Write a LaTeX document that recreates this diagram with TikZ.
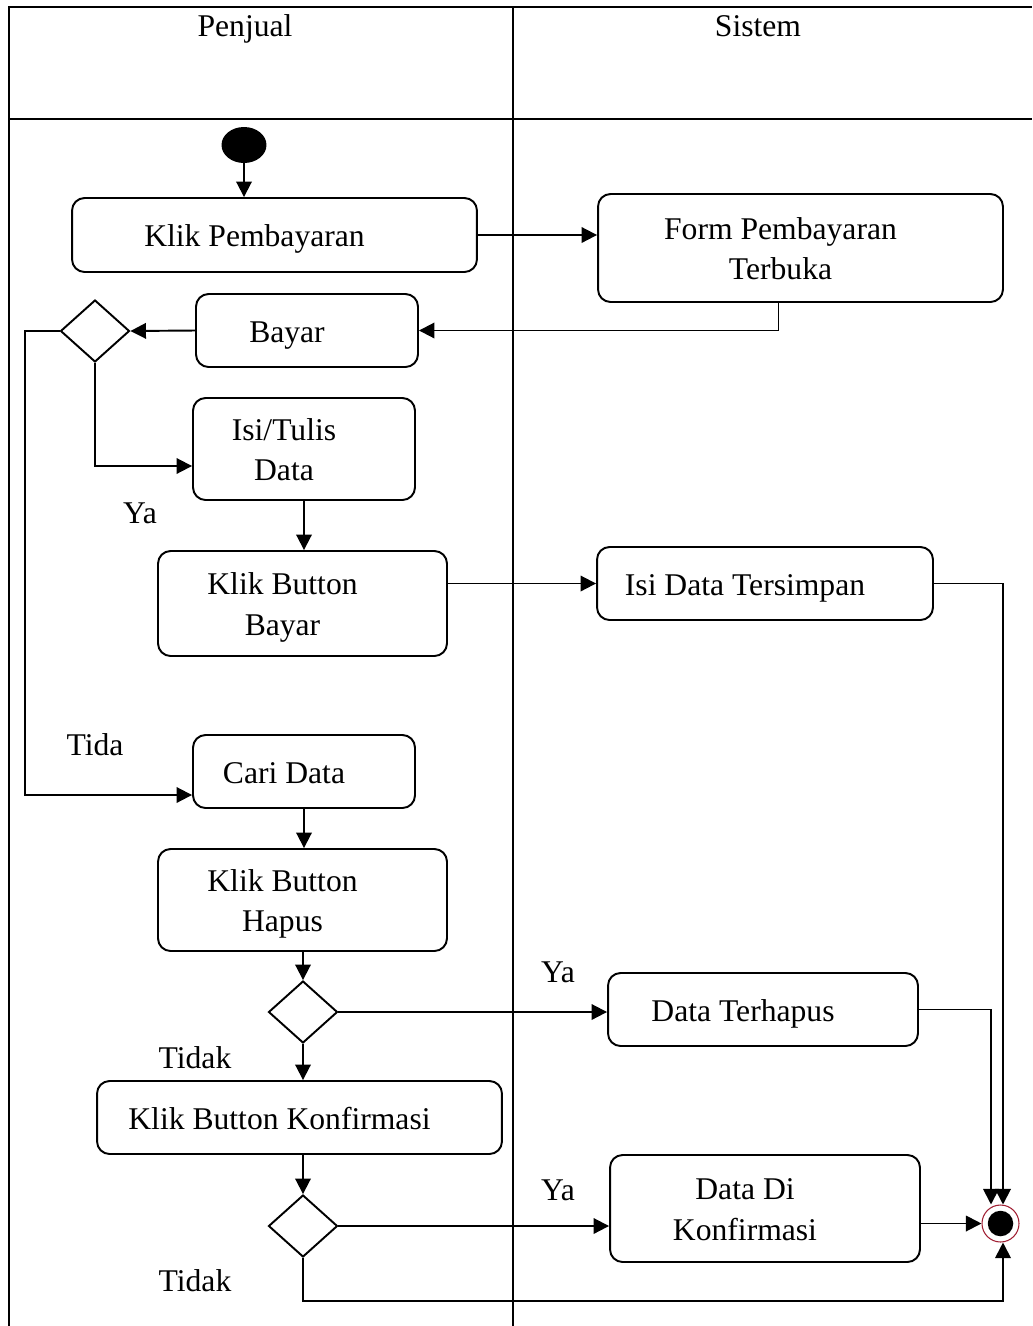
\documentclass[tikz,border=0pt]{standalone}
\usepackage{fontspec}
\setmainfont{Liberation Serif}
\usetikzlibrary{shapes.geometric,arrows.meta}
\definecolor{ringred}{RGB}{160,30,50}
\newcommand{\acttext}[1]{\raisebox{0pt}[\dimexpr\height+4pt\relax][\depth]{\begin{tabular}{@{}c@{}}#1\end{tabular}}\rule{0.8cm}{0pt}}

\begin{document}
\begin{tikzpicture}[x=0.02cm,y=-0.02cm,font=\fontsize{18}{23}\selectfont,
  act/.style={draw,rounded corners=0.25cm,line width=1.1pt,inner sep=0pt},
  dec/.style={draw,diamond,line width=1.1pt,inner sep=0pt,minimum width=1.38cm,minimum height=1.24cm},
  flow/.style={-{Triangle[length=0.31cm,width=0.31cm]},line width=1.1pt},
  lane/.style={line width=1.5pt}]
%\draw[help lines] (0,0) grid (1032,1326);
\useasboundingbox (0,0) rectangle (1032,1326);
% swimlanes
\draw[lane] (9,1326) -- (9,7) -- (1032,7);
\draw[lane] (9,119) -- (1032,119);
\draw[lane] (513,7) -- (513,1326);
\node (penjual) [anchor=base] at (245,36) {Penjual};
\node (sistem) [anchor=base] at (758,36) {Sistem};
% activities
\node (start) [ellipse,fill=black,minimum width=0.9cm,minimum height=0.72cm,inner sep=0pt] at (244,145) {};
\node (kp) [act,minimum width=8.1cm,minimum height=1.48cm] at (274.5,235) {\acttext{Klik Pembayaran}};
\node (form) [act,minimum width=8.1cm,minimum height=2.16cm] at (800.5,248) {\acttext{Form Pembayaran\\Terbuka}};
\node (bayar) [act,minimum width=4.44cm,minimum height=1.46cm] at (307,330.5) {\acttext{Bayar}};
\node (d1) [dec] at (95,331) {};
\node (isi) [act,minimum width=4.44cm,minimum height=2.04cm] at (304,449) {\acttext{Isi/Tulis\\Data}};
\node (kbb) [act,minimum width=5.78cm,minimum height=2.1cm] at (302.5,603.5) {\acttext{Klik Button\\Bayar}};
\node (ids) [act,minimum width=6.72cm,minimum height=1.46cm] at (765,583.5) {\acttext{Isi Data Tersimpan}};
\node (cari) [act,minimum width=4.44cm,minimum height=1.46cm] at (304,771.5) {\acttext{Cari Data}};
\node (kbh) [act,minimum width=5.78cm,minimum height=2.04cm] at (302.5,900) {\acttext{Klik Button\\Hapus}};
\node (d2) [dec] at (303,1012) {};
\node (dt) [act,minimum width=6.2cm,minimum height=1.46cm] at (763,1009.5) {\acttext{Data Terhapus}};
\node (kbk) [act,minimum width=8.1cm,minimum height=1.46cm] at (299.5,1117.5) {\acttext{Klik Button Konfirmasi}};
\node (d3) [dec] at (303,1226) {};
\node (ddk) [act,minimum width=6.2cm,minimum height=2.14cm] at (765,1208.5) {\acttext{Data Di\\Konfirmasi}};
\node (end) [circle,draw=ringred,line width=0.6pt,minimum size=0.74cm,inner sep=0pt,
  path picture={\fill[black] (path picture bounding box.center) circle (0.255cm);}] at (1000.5,1223.5) {};
% guard labels
\node (ya1) at (140,513) {Ya};
\node (tida) at (95,745) {Tida};
\node (ya2) at (558,972) {Ya};
\node (tidak1) at (195,1058) {Tidak};
\node (ya3) at (558,1190) {Ya};
\node (tidak2) at (195,1281) {Tidak};
% flows
\draw[flow] (start) -- (start |- kp.north);
\draw[flow] (kp.east) -- (kp.east -| form.west);
\draw[flow] ([xshift=-0.44cm]form.south) |- (bayar.east);
\draw[flow] (bayar.west) -- (d1.east);
\draw[flow] (d1.south) |- ([yshift=-0.34cm]isi.west);
\draw[flow] (d1.west) -- ++(-35,0) |- ([yshift=-0.47cm]cari.west);
\draw[flow] (isi.south) -- (isi.south |- kbb.north);
\draw[flow] (kbb.east |- ids.west) -- (ids.west);
\draw[flow] (ids.east) -| ([xshift=0.05cm]end.north);
\draw[flow] (cari.south) -- (cari.south |- kbh.north);
\draw[flow] (kbh.south -| d2.north) -- (d2.north);
\draw[flow] (d2.east) -- (d2.east -| dt.west);
\draw[flow] (dt.east) -| ([xshift=-0.19cm]end.north);
\draw[flow] (d2.south) -- (d2.south |- kbk.north);
\draw[flow] (kbk.south -| d3.north) -- (d3.north);
\draw[flow] (d3.east) -- (d3.east -| ddk.west);
\draw[flow] (ddk.east |- end.west) -- (end.west);
\draw[flow] (d3.south) -- ++(0,43) -| ([xshift=0.05cm]end.south);
\end{tikzpicture}
\end{document}
